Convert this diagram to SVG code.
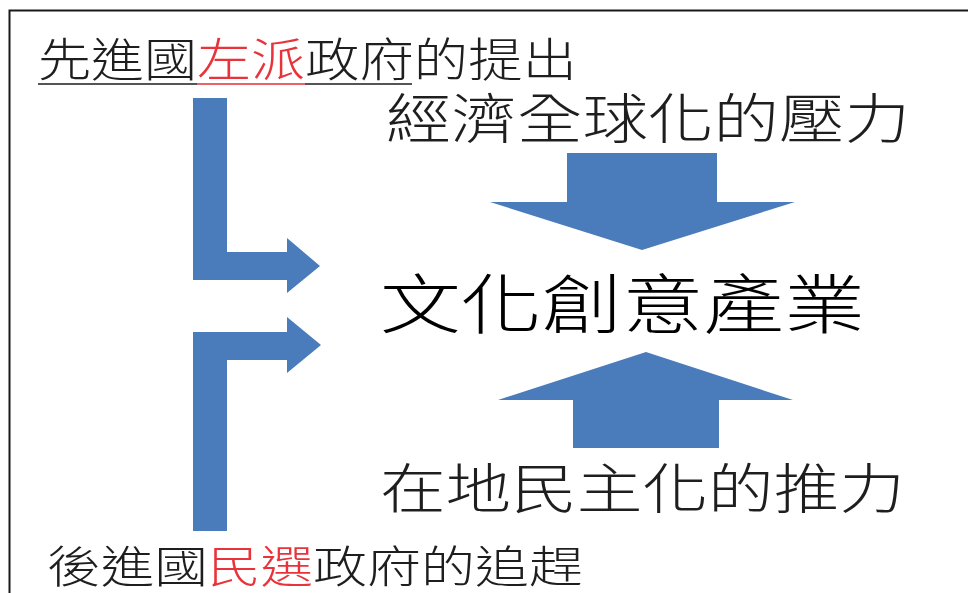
<svg xmlns="http://www.w3.org/2000/svg" width="968" height="593" viewBox="0 0 968 593">
<style>
.t{font-family:"Noto Sans CJK TC","Noto Sans CJK SC",sans-serif;fill:#1e1e1e;font-weight:300}
.r{fill:#e8333a}
.arrow{fill:#4a7bbb}
</style>
<rect x="0" y="0" width="968" height="593" fill="#ffffff"/>
<g id="frame" fill="none" stroke="#1a1a1a" stroke-width="2">
<path d="M9.5,593 L9.5,10.5 L968,10.5"/>
</g>
<g id="node-top-left">
<text class="t" x="38" y="76" font-size="46" textLength="159" lengthAdjust="spacingAndGlyphs">先進國</text>
<text class="t r" x="197" y="76" font-size="46" textLength="108" lengthAdjust="spacingAndGlyphs">左派</text>
<text class="t" x="305" y="76" font-size="46" textLength="272" lengthAdjust="spacingAndGlyphs">政府的提出</text>
<line x1="38" y1="84" x2="197" y2="84" stroke="#555" stroke-width="2"/>
<line x1="197" y1="84" x2="305" y2="84" stroke="#e8646a" stroke-width="2"/>
<line x1="305" y1="84" x2="412" y2="84" stroke="#555" stroke-width="2"/>
</g>
<g id="node-global">
<text class="t" x="386" y="139" font-size="54" textLength="524" lengthAdjust="spacingAndGlyphs">經濟全球化的壓力</text>
</g>
<g id="node-center">
<text class="t" x="380" y="328" font-size="65" textLength="485" lengthAdjust="spacingAndGlyphs" style="fill:#000">文化創意產業</text>
</g>
<g id="node-local">
<text class="t" x="380" y="509" font-size="54" textLength="525" lengthAdjust="spacingAndGlyphs">在地民主化的推力</text>
</g>
<g id="node-bottom-left">
<text class="t" x="47" y="583" font-size="44" textLength="161" lengthAdjust="spacingAndGlyphs">後進國</text>
<text class="t r" x="208" y="583" font-size="44" textLength="105" lengthAdjust="spacingAndGlyphs">民選</text>
<text class="t" x="313" y="583" font-size="44" textLength="270" lengthAdjust="spacingAndGlyphs">政府的追趕</text>
</g>
<g id="connectors">
<path class="arrow" d="M193,98 L227,98 L227,252 L287,252 L287,238 L320,266 L287,293 L287,280 L193,280 Z"/>
<path class="arrow" d="M193,531 L193,332 L287,332 L287,317 L321,345 L287,373 L287,360 L227,360 L227,531 Z"/>
<path class="arrow" d="M567,153 L717,153 L717,202 L795,202 L642,250 L490,202 L567,202 Z"/>
<path class="arrow" d="M646,352 L793,400 L719,400 L719,448 L573,448 L573,400 L498,400 Z"/>
</g>
</svg>
